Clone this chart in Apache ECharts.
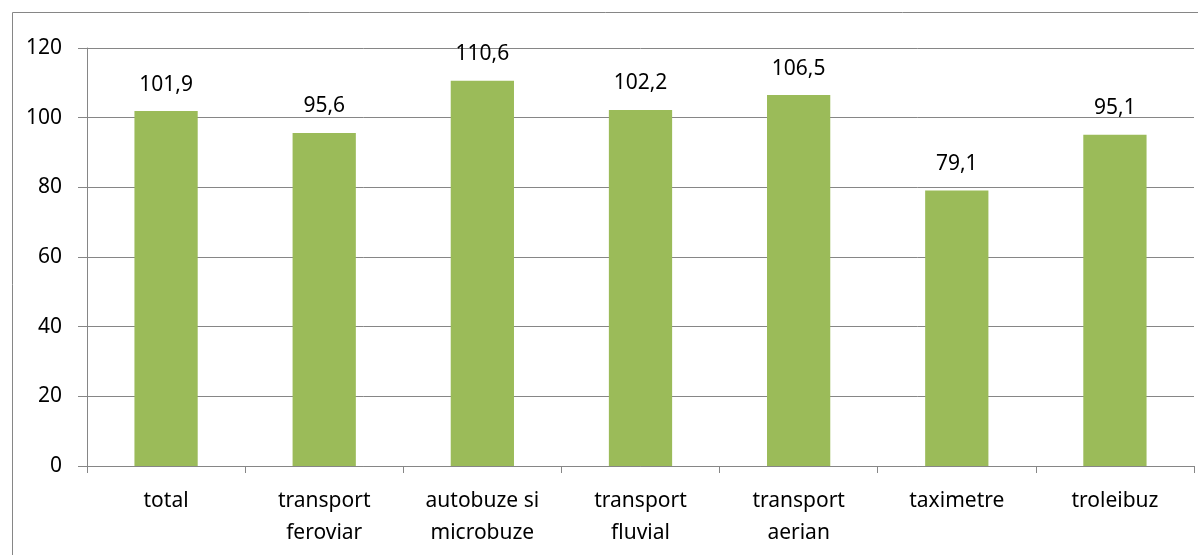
<!DOCTYPE html>
<html><head><meta charset="utf-8">
<script src="https://cdn.jsdelivr.net/npm/echarts@6/dist/echarts.min.js"></script>
<style>html,body{margin:0;padding:0;background:#fff}#c{width:1198px;height:555px}</style>
</head><body><div id="c"></div>
<script>
const categories = ['total', 'transport\nferoviar', 'autobuze si\nmicrobuze', 'transport\nfluvial', 'transport\naerian', 'taximetre', 'troleibuz'];
const values = [101.9, 95.6, 110.6, 102.2, 106.5, 79.1, 95.1];
const yTicks = [0, 20, 40, 60, 80, 100, 120];

const FONT = '"Noto Sans", "Open Sans", sans-serif';
const chart = echarts.init(document.getElementById('c'), null, {renderer: 'canvas'});
chart.setOption({
  animation: false,
  graphic: [{
    type: 'rect', left: 10, top: 10, silent: true,
    shape: {width: 1300, height: 700},
    style: {fill: 'none', stroke: '#868686', lineWidth: 1}
  }],
  grid: {left: 87, right: 4, top: 48, bottom: 89, containLabel: false},
  xAxis: {
    type: 'category', data: categories,
    axisLine: {lineStyle: {color: '#868686', width: 1}},
    axisTick: {show: true, length: 7, alignWithLabel: false, lineStyle: {color: '#868686'}},
    axisLabel: {color: '#000', fontSize: 21, fontFamily: FONT, margin: 19, lineHeight: 32, interval: 0}
  },
  yAxis: {
    type: 'value', min: yTicks[0], max: yTicks[yTicks.length - 1], interval: 20,
    axisLine: {show: true, lineStyle: {color: '#868686', width: 1}},
    axisTick: {show: true, length: 9, lineStyle: {color: '#868686'}},
    splitLine: {lineStyle: {color: '#868686', width: 1}},
    axisLabel: {color: '#000', fontSize: 21, fontFamily: FONT, margin: 25}
  },
  series: [{
    type: 'bar', data: values, barWidth: '40%',
    itemStyle: {color: '#9BBB59'},
    label: {
      show: true, position: 'top', distance: 16, color: '#000',
      fontSize: 21, fontFamily: FONT,
      formatter: p => p.value.toFixed(1).replace('.', ',')
    }
  }]
});
</script></body></html>
